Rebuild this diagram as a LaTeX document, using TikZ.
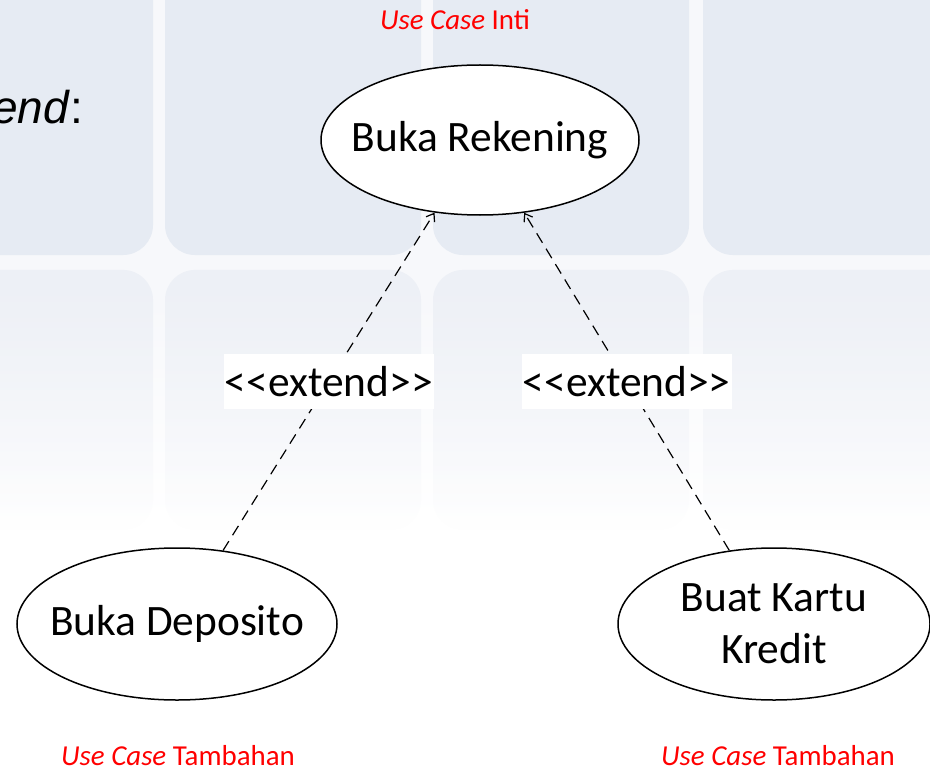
\documentclass[tikz,border=0pt]{standalone}
\usepackage{fontspec}
\setmainfont{Carlito}
\newfontfamily\arialfont{Liberation Sans}
\usetikzlibrary{arrows.meta, positioning, shapes.geometric, fadings}
\definecolor{ubin}{RGB}{230,235,243}
\definecolor{ubinmuda}{RGB}{237,240,246}
\definecolor{celah}{RGB}{247,248,251}
\newcommand{\stereotipe}[1]{<\kern0pt<#1>\kern0pt>}
\newcommand{\teksUC}[1]{\makebox[0pt]{#1}}

\begin{document}
\begin{tikzpicture}
        [
        x=0.5pt, y=-0.5pt,
            usecase/.style={
                ellipse,
                draw=black,
                line width=0.75pt,
                fill=white,
                align=center,
                inner sep=0pt,
                font=\fontsize{21.7}{26}\selectfont
            },
            labelExtend/.style={
                fill=white,
                inner xsep=0.5pt,
                inner ysep=6pt,
                font=\fontsize{21.7}{26}\selectfont
            },
            keterangan/.style={
                text=red,
                anchor=base,
                inner sep=0pt,
                font=\fontsize{14.45}{17}\selectfont
            },
            flechaExtend/.style={
                -{Straight Barb[length=3.5pt,width=5pt]},
                dash pattern=on 5.5pt off 3.5pt,
                line width=0.6pt
            },
            ubinAtas/.style={
                fill=ubin,
                rounded corners=15pt
            },
            ubinBawah/.style={
                fill=ubinmuda,
                path fading=south,
                rounded corners=15pt
            }
        ]
        \useasboundingbox (0,0) rectangle (930,770);
        % latar belakang
        \fill[celah] (0,0) rectangle (930,300);
        \fill[top color=celah, bottom color=white] (0,299) rectangle (930,520);
        \fill[white] (0,519) rectangle (930,770);
        \foreach \x in {-103,165,433,703} {
            \fill[ubinAtas] (\x,-60) rectangle ++(256,315);
            \fill[ubinBawah] (\x,270) rectangle ++(256,260);
        }

        \node(judul) [anchor=base east, font=\arialfont\fontsize{23}{27}\selectfont] at (90,124) {\textit{end}:};

        \node(rekening) [usecase, minimum width=159pt, minimum height=75pt] at (480,140) {\teksUC{Buka Rekening}};
        \node(deposito) [usecase, minimum width=160pt, minimum height=76pt] at (177,624) {\teksUC{Buka Deposito}};
        \node(kartu) [usecase, minimum width=156pt, minimum height=76pt] at (774,624) {\teksUC{Buat Kartu}\\\teksUC{Kredit}};

        \node(inti) [keterangan] at (455,30) {\textit{Use Case} Inti};
        \node(tambahanKiri) [keterangan] at (178,765) {\textit{Use Case} Tambahan};
        \node(tambahanKanan) [keterangan] at (778,765) {\textit{Use Case} Tambahan};

        \draw[flechaExtend] (deposito)--node[labelExtend]{\stereotipe{extend}}(rekening);
        \draw[flechaExtend] (kartu)--node[labelExtend]{\stereotipe{extend}}(rekening);
    \end{tikzpicture}
\end{document}
